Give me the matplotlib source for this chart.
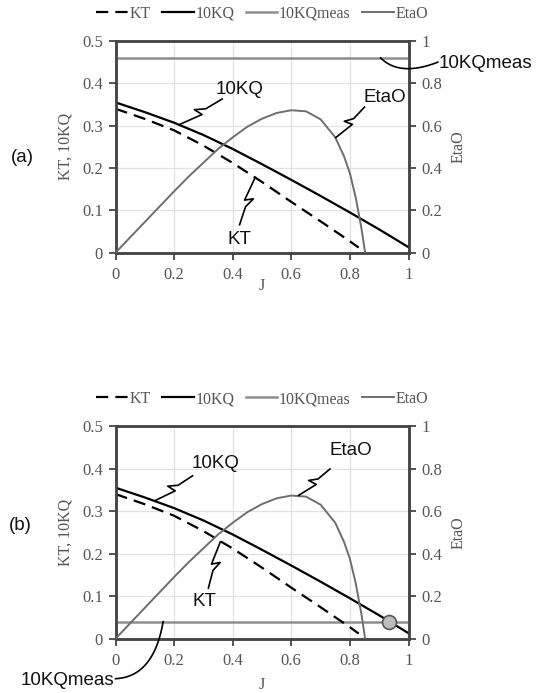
import numpy as np
import matplotlib
matplotlib.use("Agg")
import matplotlib.pyplot as plt
from matplotlib.lines import Line2D

plt.rcParams["font.family"] = ["Liberation Serif", "DejaVu Serif"]

# ---- data ----
J_kt = [0.0, 0.1, 0.2, 0.3, 0.4, 0.5, 0.6, 0.7, 0.8, 0.83]
KT = [0.340, 0.316, 0.289, 0.253, 0.212, 0.167, 0.120, 0.074, 0.027, 0.012]

J_kq = [0.0, 0.1, 0.2, 0.3, 0.4, 0.5, 0.6, 0.7, 0.8, 0.9, 1.0]
KQ10 = [0.355, 0.332, 0.307, 0.278, 0.245, 0.209, 0.172, 0.134, 0.095, 0.055, 0.013]

J_eta = [0.0, 0.1, 0.2, 0.25, 0.3, 0.35, 0.4, 0.45, 0.5, 0.55, 0.6, 0.65,
         0.7, 0.75, 0.78, 0.8, 0.82, 0.84, 0.852]
ETA = [0.0, 0.145, 0.29, 0.36, 0.425, 0.49, 0.545, 0.595, 0.633, 0.66, 0.673, 0.668,
       0.630, 0.545, 0.455, 0.375, 0.26, 0.11, 0.0]

KQMEAS_A = 0.46
KQMEAS_B = 0.04
OP_J = 0.934

legend_labels = ["KT", "10KQ", "10KQmeas", "EtaO"]
xticks = [0, 0.2, 0.4, 0.6, 0.8, 1]
xticklabels = ["0", "0.2", "0.4", "0.6", "0.8", "1"]
lticks = [0, 0.1, 0.2, 0.3, 0.4, 0.5]
lticklabels = ["0", "0.1", "0.2", "0.3", "0.4", "0.5"]
rticks = [0, 0.2, 0.4, 0.6, 0.8, 1]
rticklabels = ["0", "0.2", "0.4", "0.6", "0.8", "1"]

SERIF = "Liberation Serif"
SANS = "Liberation Sans"
SPINE = "#454545"
TXT = "#555555"
GRID = "#e2e2e2"
C_ETA = "#6e6e6e"
C_MEAS = "#8e8e8e"

W, H = 545, 693
fig = plt.figure(figsize=(W / 100, H / 100), dpi=100)
fig.patch.set_facecolor("white")


def fx(px):
    return px / W


def fy(py):
    return 1 - py / H


def make_axes(top_px, bottom_px, meas_value, xlabel_pad):
    left_px, right_px = 115.5, 408.5
    ax = fig.add_axes([fx(left_px), fy(bottom_px), fx(right_px - left_px),
                       (bottom_px - top_px) / H])
    ax.set_xlim(0, 1)
    ax.set_ylim(0, 0.5)
    ax.set_xticks(xticks)
    ax.set_xticklabels(xticklabels, family=SERIF)
    ax.set_yticks(lticks)
    ax.set_yticklabels(lticklabels, family=SERIF)
    ax.grid(True, color=GRID, lw=0.9, zorder=0)
    for s in ax.spines.values():
        s.set_color(SPINE)
        s.set_linewidth(1.8)
    ax.tick_params(axis="both", colors=SPINE, labelcolor=TXT, labelsize=12,
                   length=5, width=1.3, direction="out")
    ax.tick_params(axis="x", pad=5)
    ax.tick_params(axis="y", pad=4)
    ax.set_ylabel("KT, 10KQ", family=SERIF, fontsize=11.5, color=TXT, labelpad=6)
    ax.set_xlabel("J", family=SERIF, fontsize=11.5, color=TXT, labelpad=xlabel_pad)

    ax2 = ax.twinx()
    ax2.set_ylim(0, 1)
    ax2.set_yticks(rticks)
    ax2.set_yticklabels(rticklabels, family=SERIF)
    for s in ax2.spines.values():
        s.set_color(SPINE)
        s.set_linewidth(1.8)
    ax2.tick_params(axis="y", colors=SPINE, labelcolor=TXT, labelsize=12,
                    length=5, width=1.3, direction="out", pad=4)
    ax2.set_ylabel("EtaO", family=SERIF, fontsize=11.5, color=TXT, labelpad=6)

    l_kt, = ax.plot(J_kt, KT, color="black", lw=1.6, ls=(0, (5.5, 3.2)), zorder=4)
    l_kq, = ax.plot(J_kq, KQ10, color="black", lw=1.6, zorder=4)
    l_meas = ax.axhline(meas_value, color=C_MEAS, lw=1.8, zorder=3)
    l_eta, = ax2.plot(J_eta, ETA, color=C_ETA, lw=1.4, zorder=4)
    ax2.set_zorder(ax.get_zorder() + 1)
    ax2.patch.set_visible(False)

    fig.legend([l_kt, l_kq, l_meas, l_eta], legend_labels,
               loc="center", bbox_to_anchor=(fx(262), fy(top_px - 27)),
               ncol=4, frameon=False, handlelength=2.0, handletextpad=0.1,
               columnspacing=0.7, prop={"family": SERIF, "size": 11.5},
               labelcolor=TXT)
    return ax, ax2


def zigzag(ax, p0, p1):
    """leader line with a small lightning kink in the middle (pixel space)"""
    d0 = ax.transData.transform(p0)
    d1 = ax.transData.transform(p1)
    v = d1 - d0
    L = np.hypot(*v)
    u = v / L
    n = np.array([-u[1], u[0]])
    pts = np.array([d0, d0 + 0.50 * v - n * 3, d0 + 0.42 * v + n * 5, d0 + 0.62 * v, d1])
    f = fig.transFigure.inverted().transform(pts)
    fig.add_artist(Line2D(f[:, 0], f[:, 1], color="black", lw=1.2))


def curve(ax, pts_data, color="black"):
    d = ax.transData.transform(np.asarray(pts_data, dtype=float))
    t = np.linspace(0, 1, 40)[:, None]
    p0, p1, p2 = d
    bez = (1 - t) ** 2 * p0 + 2 * (1 - t) * t * p1 + t ** 2 * p2
    f = fig.transFigure.inverted().transform(bez)
    fig.add_artist(Line2D(f[:, 0], f[:, 1], color=color, lw=1.2))


def label(ax, x, y, s):
    ax.text(x, y, s, family=SANS, fontsize=13.5, color="#111111",
            ha="center", va="center", clip_on=False, zorder=6)


# ---- (a) ----
axA, axA2 = make_axes(41.0, 252.7, KQMEAS_A, -3)
fig.canvas.draw()
label(axA, 0.4235, 0.385, "10KQ")
zigzag(axA, (0.216, 0.302), (0.364, 0.363))
label(axA, 0.4235, 0.030, "KT")
zigzag(axA, (0.477, 0.178), (0.4235, 0.066))
label(axA, 0.92, 0.367, "EtaO")
zigzag(axA, (0.752, 0.272), (0.85, 0.344))
axA.text(1.103, 0.447, "10KQmeas", family=SANS, fontsize=13.5, color="#111111",
         ha="left", va="center", clip_on=False)
curve(axA, [(0.905, 0.46), (0.97, 0.415), (1.10, 0.45)])
fig.text(fx(22), fy(157), "(a)", family=SANS, fontsize=13.5, color="#111111",
         ha="center", va="center")

# ---- (b) ----
axB, axB2 = make_axes(426.0, 638.7, KQMEAS_B, 6)
fig.canvas.draw()
label(axB, 0.34, 0.411, "10KQ")
zigzag(axB, (0.133, 0.324), (0.263, 0.383))
label(axB, 0.803, 0.442, "EtaO")
zigzag(axB, (0.625, 0.337), (0.732, 0.399))
label(axB, 0.305, 0.087, "KT")
zigzag(axB, (0.358, 0.228), (0.317, 0.119))
axB.text(-0.004, -0.098, "10KQmeas", family=SANS, fontsize=13.5, color="#111111",
         ha="right", va="center", clip_on=False)
curve(axB, [(0.1625, 0.040), (0.13, -0.09), (0.0, -0.094)])
axB.plot([OP_J], [KQMEAS_B], marker="o", ms=10, mfc="#bdbdbd", mec="#555555",
         mew=1.2, zorder=7, clip_on=False)
fig.text(fx(20), fy(526), "(b)", family=SANS, fontsize=13.5, color="#111111",
         ha="center", va="center")

fig.savefig("out.png", dpi=100, facecolor="white")
